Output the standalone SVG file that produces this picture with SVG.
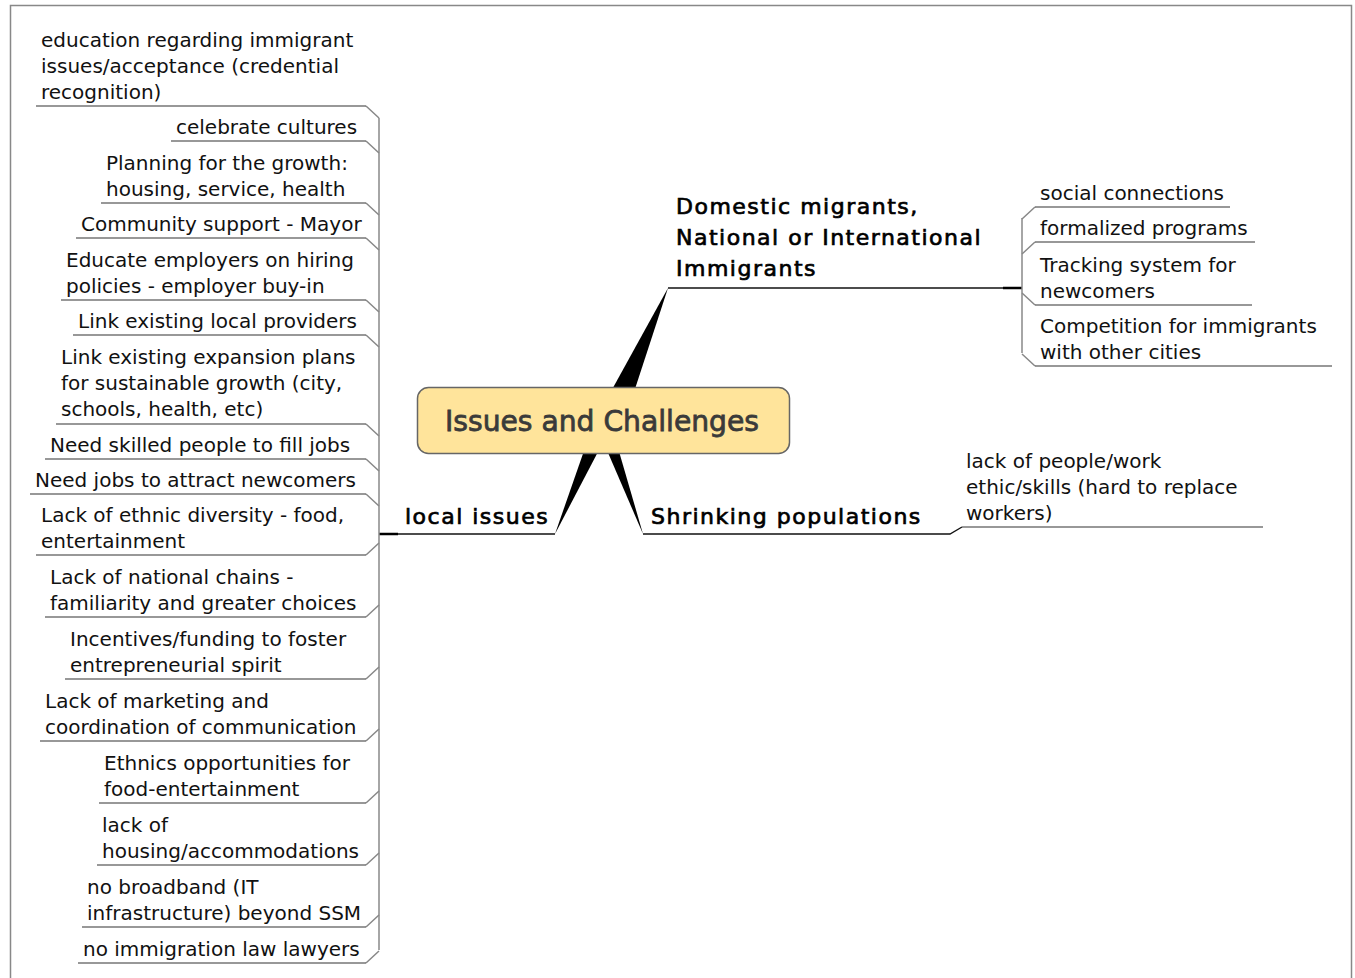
<svg xmlns="http://www.w3.org/2000/svg" width="1355" height="978" viewBox="0 0 1355 978">
<style>
.t{font-family:"DejaVu Sans",Verdana,sans-serif;font-size:20px;fill:#111}
.h{font-family:"DejaVu Sans",Verdana,sans-serif;font-size:22px;letter-spacing:1.5px;fill:#000;stroke:#000;stroke-width:0.7}
.ul{stroke:#333;stroke-width:1.2;fill:none}
.br{stroke:#888;stroke-width:1.5;fill:none}
.mu{stroke:#111;stroke-width:1.4;fill:none}
.w{fill:#000}
</style>
<rect x="10.5" y="5.5" width="1341" height="990" fill="#fff" stroke="#888" stroke-width="1.5"/>
<g id="connectors">
<polygon class="w" points="668,288 609,395 633,395"/>
<polygon class="w" points="555,534 585,448 600,448"/>
<polygon class="w" points="643,534 606,448 618,448"/>
<path class="mu" d="M379,534 H555"/>
<path d="M379,534 H398" stroke="#000" stroke-width="2.5"/>
<path class="mu" d="M643,534 H950 L962,527"/>
<path class="mu" d="M668,288 H1022"/>
<path d="M1003,288 H1022" stroke="#000" stroke-width="2.5"/>
<path class="br" d="M379,118 V950"/>
<path class="br" d="M1022,218 V353"/>
<path class="br" d="M366,106 L379,118 M366,141 L379,153 M366,203 L379,215 M366,238 L379,250 M366,300 L379,312 M366,335 L379,347 M366,424 L379,436 M366,459 L379,471 M366,494 L379,506 M366,555 L379,543 M366,617 L379,605 M366,679 L379,667 M366,741 L379,729 M366,803 L379,791 M366,865 L379,853 M366,927 L379,915 M366,963 L379,951"/>
<path class="br" d="M1035,207 L1022,219 M1035,242 L1022,254 M1035,305 L1022,293 M1035,366 L1022,354"/>
</g>
<g id="central">
<rect x="417.5" y="387.5" width="372" height="66" rx="11" fill="#ffe49b" stroke="#666" stroke-width="1.5"/>
<text x="445" y="431" textLength="314" lengthAdjust="spacingAndGlyphs" font-family="DejaVu Sans,Verdana,sans-serif" font-size="29" fill="#3a3a3a" stroke="#3a3a3a" stroke-width="0.8">Issues and Challenges</text>
</g>
<g id="topic-domestic">
<text class="h" x="676" y="214">Domestic migrants,</text>
<text class="h" x="676" y="245">National or International</text>
<text class="h" x="676" y="276">Immigrants</text>
</g>
<g id="topic-local"><text class="h" x="405" y="524">local issues</text></g>
<g id="topic-shrinking"><text class="h" x="651" y="524">Shrinking populations</text></g>
<g id="r1"><text class="t" x="1040" y="200">social connections</text><path class="ul" d="M1035,207 H1230"/></g>
<g id="r2"><text class="t" x="1040" y="235">formalized programs</text><path class="ul" d="M1035,242 H1255"/></g>
<g id="r3"><text class="t" x="1040" y="272">Tracking system for</text><text class="t" x="1040" y="298">newcomers</text><path class="ul" d="M1035,305 H1252"/></g>
<g id="r4"><text class="t" x="1040" y="333">Competition for immigrants</text><text class="t" x="1040" y="359">with other cities</text><path class="ul" d="M1035,366 H1332"/></g>
<g id="s1"><text class="t" x="966" y="468">lack of people/work</text><text class="t" x="966" y="494">ethic/skills (hard to replace</text><text class="t" x="966" y="520">workers)</text><path class="ul" d="M962,527 H1263"/></g>
<g id="l1"><text class="t" x="41" y="47">education regarding immigrant</text><text class="t" x="41" y="73">issues/acceptance (credential</text><text class="t" x="41" y="99">recognition)</text><path class="ul" d="M36,106 H366"/></g>
<g id="l2"><text class="t" x="176" y="134">celebrate cultures</text><path class="ul" d="M171,141 H366"/></g>
<g id="l3"><text class="t" x="106" y="170">Planning for the growth:</text><text class="t" x="106" y="196">housing, service, health</text><path class="ul" d="M101,203 H366"/></g>
<g id="l4"><text class="t" x="81" y="231">Community support - Mayor</text><path class="ul" d="M76,238 H366"/></g>
<g id="l5"><text class="t" x="66" y="267">Educate employers on hiring</text><text class="t" x="66" y="293">policies - employer buy-in</text><path class="ul" d="M61,300 H366"/></g>
<g id="l6"><text class="t" x="78" y="328">Link existing local providers</text><path class="ul" d="M73,335 H366"/></g>
<g id="l7"><text class="t" x="61" y="364">Link existing expansion plans</text><text class="t" x="61" y="390">for sustainable growth (city,</text><text class="t" x="61" y="416">schools, health, etc)</text><path class="ul" d="M56,424 H366"/></g>
<g id="l8"><text class="t" x="50" y="452">Need skilled people to fill jobs</text><path class="ul" d="M45,459 H366"/></g>
<g id="l9"><text class="t" x="35" y="487">Need jobs to attract newcomers</text><path class="ul" d="M30,494 H366"/></g>
<g id="l10"><text class="t" x="41" y="522">Lack of ethnic diversity - food,</text><text class="t" x="41" y="548">entertainment</text><path class="ul" d="M36,555 H366"/></g>
<g id="l11"><text class="t" x="50" y="584">Lack of national chains -</text><text class="t" x="50" y="610">familiarity and greater choices</text><path class="ul" d="M45,617 H366"/></g>
<g id="l12"><text class="t" x="70" y="646">Incentives/funding to foster</text><text class="t" x="70" y="672">entrepreneurial spirit</text><path class="ul" d="M65,679 H366"/></g>
<g id="l13"><text class="t" x="45" y="708">Lack of marketing and</text><text class="t" x="45" y="734">coordination of communication</text><path class="ul" d="M40,741 H366"/></g>
<g id="l14"><text class="t" x="104" y="770">Ethnics opportunities for</text><text class="t" x="104" y="796">food-entertainment</text><path class="ul" d="M99,803 H366"/></g>
<g id="l15"><text class="t" x="102" y="832">lack of</text><text class="t" x="102" y="858">housing/accommodations</text><path class="ul" d="M97,865 H366"/></g>
<g id="l16"><text class="t" x="87" y="894">no broadband (IT</text><text class="t" x="87" y="920">infrastructure) beyond SSM</text><path class="ul" d="M82,927 H366"/></g>
<g id="l17"><text class="t" x="83" y="956">no immigration law lawyers</text><path class="ul" d="M78,963 H366"/></g>
</svg>
